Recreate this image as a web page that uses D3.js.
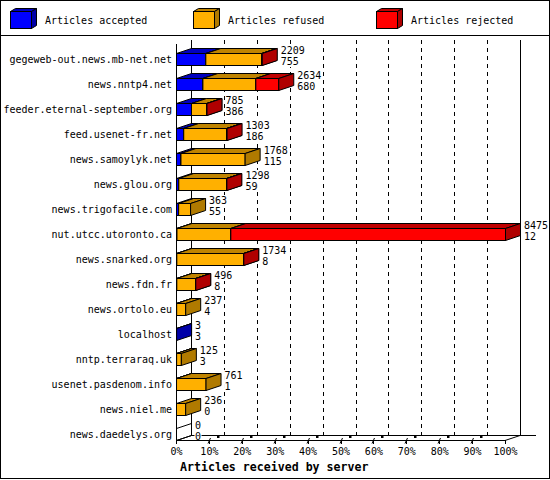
<!DOCTYPE html>
<html>
<head>
<meta charset="utf-8">
<script src="https://cdn.jsdelivr.net/npm/d3@7/dist/d3.min.js"></script>
<style>
  body { margin: 0; background: #fff; }
  svg text { font-family: "DejaVu Sans Mono", monospace; font-size: 10px; fill: #000; }
</style>
</head>
<body>
<div id="chart"></div>
<script>
// servers, top to bottom
var categories = ["gegeweb-out.news.mb-net.net", "news.nntp4.net", "feeder.eternal-september.org",
  "feed.usenet-fr.net", "news.samoylyk.net", "news.glou.org", "news.trigofacile.com",
  "nut.utcc.utoronto.ca", "news.snarked.org", "news.fdn.fr", "news.ortolo.eu", "localhost",
  "nntp.terraraq.uk", "usenet.pasdenom.info", "news.niel.me", "news.daedelys.org"];
var accepted = [755, 680, 386, 186, 115, 59, 55, 12, 8, 8, 4, 3, 3, 1, 0, 0];
var refused  = [1440, 1363, 395, 1102, 1653, 1229, 308, 1387, 1720, 485, 233, 0, 122, 760, 236, 0];
var rejected = [14, 591, 4, 15, 0, 10, 0, 7076, 6, 3, 0, 0, 0, 0, 0, 0];
var seriesNames = ["Articles accepted", "Articles refused", "Articles rejected"];
var percentTicks = [0, 10, 20, 30, 40, 50, 60, 70, 80, 90, 100];

var colors = [
  {front: "#0000ff", top: "#0000c0", side: "#0000a8"},
  {front: "#ffb000", top: "#c08400", side: "#b07a00"},
  {front: "#ff0000", top: "#c00000", side: "#b00000"}
];

var W = 550, H = 480;
var dx = 15, dy = 5;           // 3d depth
var barH = 12;
var axisY = 440, topY = 45;

var series = [accepted, refused, rejected];
var totals = categories.map(function(c, i) { return accepted[i] + refused[i] + rejected[i]; });

var svg = d3.select("#chart").append("svg")
  .attr("width", W).attr("height", H);

svg.append("rect").attr("x", 0).attr("y", 0).attr("width", W).attr("height", H).attr("fill", "#fff");

var x = d3.scaleLinear().domain([0, d3.max(totals)]).range([176, 505]);
var xp = d3.scaleLinear().domain([0, 100]).range([176, 505]);
var y = d3.scaleBand().domain(categories).range([46.5, 446.5]);

function line(g, x1, y1, x2, y2, dash) {
  var l = g.append("line").attr("x1", x1).attr("y1", y1).attr("x2", x2).attr("y2", y2)
    .attr("stroke", "#000").attr("stroke-width", 1);
  if (dash) l.attr("stroke-dasharray", dash);
  return l;
}

// back wall and grid
var back = svg.append("g").attr("shape-rendering", "crispEdges");
percentTicks.slice(1, -1).forEach(function(p) {
  line(back, Math.round(xp(p) + dx) + 0.5, topY - dy, Math.round(xp(p) + dx) + 0.5, axisY - dy, "4,4");
});
line(back, xp(0) + dx + 0.5, topY - dy, xp(0) + dx + 0.5, axisY - dy);
line(back, xp(100) + dx + 0.5, topY - dy, xp(100) + dx + 0.5, axisY - dy);
line(back, xp(0) + dx, axisY - dy + 0.5, xp(100) + dx + 16, axisY - dy + 0.5);

// bars
var bars = svg.append("g").attr("stroke", "#000").attr("stroke-width", 1).attr("stroke-linejoin", "miter");
var labels = svg.append("g");
categories.forEach(function(cat, i) {
  var c = y(cat) + y.bandwidth() / 2;
  var yt = c - barH / 2 + 0.5, yb = c + barH / 2 + 0.5;
  var cum = 0;
  if (totals[i] === 0) {
    var x0 = x(0) + 0.5;
    bars.append("polygon")
      .attr("points", [[x0, yt], [x0 + dx, yt - dy], [x0 + dx, yb - dy], [x0, yb]].join(" "))
      .attr("fill", "none");
  }
  series.forEach(function(s, k) {
    var v = s[i];
    if (!v) return;
    var x0 = x(cum) + 0.5, x1 = x(cum + v) + 0.5;
    cum += v;
    bars.append("rect").attr("x", x0).attr("y", yt).attr("width", x1 - x0).attr("height", yb - yt)
      .attr("fill", colors[k].front);
    bars.append("polygon")
      .attr("points", [[x0, yt], [x0 + dx, yt - dy], [x1 + dx, yt - dy], [x1, yt]].join(" "))
      .attr("fill", colors[k].top);
    bars.append("polygon")
      .attr("points", [[x1, yt], [x1 + dx, yt - dy], [x1 + dx, yb - dy], [x1, yb]].join(" "))
      .attr("fill", colors[k].side);
  });

  // value labels: received / accepted, on a white patch like the original
  var lx = x(totals[i]) + dx + 4;
  [[totals[i], c - 5, c - 14], [accepted[i], c + 6, c - 3]].forEach(function(t) {
    var bg = labels.append("rect").attr("fill", "#fff");
    var tx = labels.append("text").attr("x", lx).attr("y", t[1]).text(t[0]);
    var bb = tx.node().getBBox();
    bg.attr("x", bb.x - 0.5).attr("y", t[2]).attr("width", bb.width + 1).attr("height", 11);
  });

  svg.append("text").attr("x", 172).attr("y", c + 3.5).attr("text-anchor", "end").text(cat);
});

// front axes
var front = svg.append("g").attr("shape-rendering", "crispEdges");
line(front, 176.5, topY - 1, 176.5, axisY + 4);
line(front, 176, axisY + 0.5, 505, axisY + 0.5);
svg.append("line").attr("x1", 176.5).attr("y1", axisY + 0.5).attr("x2", 176.5 + dx).attr("y2", axisY + 0.5 - dy)
  .attr("stroke", "#000");
svg.append("line").attr("x1", 505).attr("y1", axisY + 0.5).attr("x2", 505 + dx).attr("y2", axisY + 0.5 - dy)
  .attr("stroke", "#000");

var xAxis = d3.axisBottom(xp).tickValues(percentTicks).tickSize(4).tickPadding(4)
  .tickFormat(function(d) { return d + "%"; });
var ax = svg.append("g").attr("transform", "translate(0," + axisY + ")").call(xAxis);
ax.select(".domain").remove();
ax.selectAll(".tick line").attr("stroke", "#000").attr("shape-rendering", "crispEdges");
ax.selectAll(".tick text").attr("font-family", "DejaVu Sans Mono").attr("font-size", 10).attr("fill", "#000");

// little 3d tick marks
percentTicks.slice(1, -1).forEach(function(p) {
  var t = Math.round(xp(p));
  svg.append("line").attr("x1", t - 1).attr("y1", axisY + 3.5).attr("x2", t + 1.5).attr("y2", axisY - 2)
    .attr("stroke", "#000");
  svg.append("rect").attr("x", t + 8).attr("y", axisY - 4).attr("width", 2.5).attr("height", 2).attr("fill", "#000");
});

svg.append("text").attr("x", 180).attr("y", 471)
  .style("font-size", "11.6px").style("font-weight", "bold")
  .text("Articles received by server");

// legend
var legend = svg.append("g");
seriesNames.forEach(function(name, k) {
  var lx = 10.5 + k * 183, ly = 11.5;
  var g = legend.append("g").attr("stroke", "#000");
  g.append("rect").attr("x", lx).attr("y", ly).attr("width", 21).attr("height", 17).attr("fill", colors[k].front);
  g.append("polygon").attr("points", [[lx, ly], [lx + 5, ly - 3], [lx + 26, ly - 3], [lx + 21, ly]].join(" "))
    .attr("fill", colors[k].top);
  g.append("polygon").attr("points", [[lx + 21, ly], [lx + 26, ly - 3], [lx + 26, ly + 14], [lx + 21, ly + 17]].join(" "))
    .attr("fill", colors[k].side);
  legend.append("text").attr("x", 45 + k * 183).attr("y", 24).text(name);
});

// frame
svg.append("rect").attr("x", 0.5).attr("y", 0.5).attr("width", W - 1).attr("height", H - 2)
  .attr("fill", "none").attr("stroke", "#000").attr("shape-rendering", "crispEdges");
line(svg, 0, 35.5, W, 35.5).attr("shape-rendering", "crispEdges");
</script>
</body>
</html>
